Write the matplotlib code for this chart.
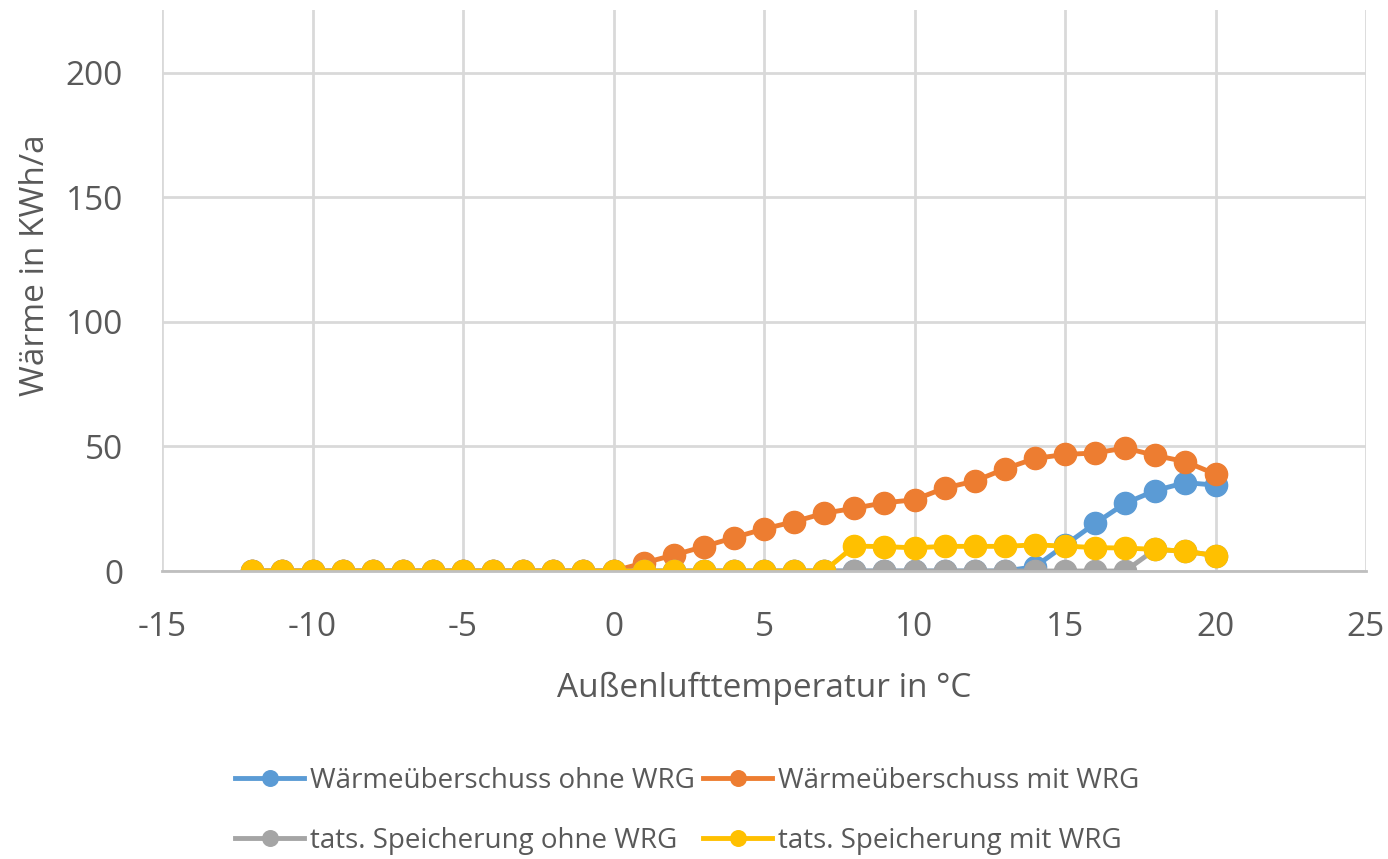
import numpy as np
import matplotlib.pyplot as plt

plt.rcParams['font.family'] = ['Open Sans', 'DejaVu Sans']
plt.rcParams['axes.unicode_minus'] = False

# Daten
temp = list(range(-12, 21))
ueberschuss_ohne = [0]*26 + [1.7, 10.4, 19.1, 27.2, 32.3, 35.5, 34.5]
ueberschuss_mit = [0]*13 + [3.2, 6.4, 9.8, 13.4, 16.9, 19.8, 23.2, 25.2, 27.4, 28.6,
                            33.3, 36.1, 41.0, 45.2, 46.8, 47.4, 49.4, 46.4, 43.9, 38.9]
speicher_ohne = [0]*30 + [8.7, 7.9, 6.2]
speicher_mit = [0]*20 + [10.0, 9.8, 9.3, 9.9, 9.9, 9.9, 10.5, 10.0, 9.4, 9.2, 8.7, 7.9, 6.2]

labels = ["Wärmeüberschuss ohne WRG", "Wärmeüberschuss mit WRG",
          "tats. Speicherung ohne WRG", "tats. Speicherung mit WRG"]
farben = ["#5B9BD5", "#ED7D31", "#A5A5A5", "#FFC000"]

fig = plt.figure(figsize=(13.88, 8.59), dpi=100)
ax = fig.add_axes([162/1388, 1-571/859, (1366-162)/1388, (571-10)/859])

serien = [ueberschuss_ohne, ueberschuss_mit, speicher_ohne, speicher_mit]
linien = []
for werte, lab, c in zip(serien, labels, farben):
    l, = ax.plot(temp, werte, color=c, lw=3.5, marker='o', ms=16, label=lab)
    linien.append(l)

ax.set_xlim(-15, 25)
ax.set_ylim(0, 225.3)
ax.set_xticks(np.arange(-15, 26, 5))
ax.set_yticks([0, 50, 100, 150, 200])
ax.grid(True, color='#d9d9d9', lw=2)
ax.set_axisbelow(True)
for s in ['top', 'right', 'left']:
    ax.spines[s].set_visible(False)
ax.spines['bottom'].set_color('#bfbfbf')
ax.spines['bottom'].set_linewidth(2)
ax.tick_params(length=0, labelsize=24, colors='#595959')
ax.tick_params(axis='y', pad=28)
ax.tick_params(axis='x', pad=29)

ax.set_xlabel("Außenlufttemperatur in °C", fontsize=24, color='#595959', labelpad=20)
ax.set_ylabel("Wärme in KWh/a", fontsize=24, color='#595959')
ax.yaxis.set_label_coords(-0.091, 0.545)

# Reihenfolge so, dass die Zeilen wie im Original belegt werden
reihenfolge = [0, 2, 1, 3]
fig.legend([linien[i] for i in reihenfolge], [labels[i] for i in reihenfolge],
           loc='center', bbox_to_anchor=(0.495, 1-811/859), ncol=2, frameon=False,
           fontsize=20, labelcolor='#595959', handlelength=2.5, handletextpad=0.2,
           columnspacing=0.3, labelspacing=1.15, markerscale=0.7)

fig.savefig("out.png", dpi=100)
